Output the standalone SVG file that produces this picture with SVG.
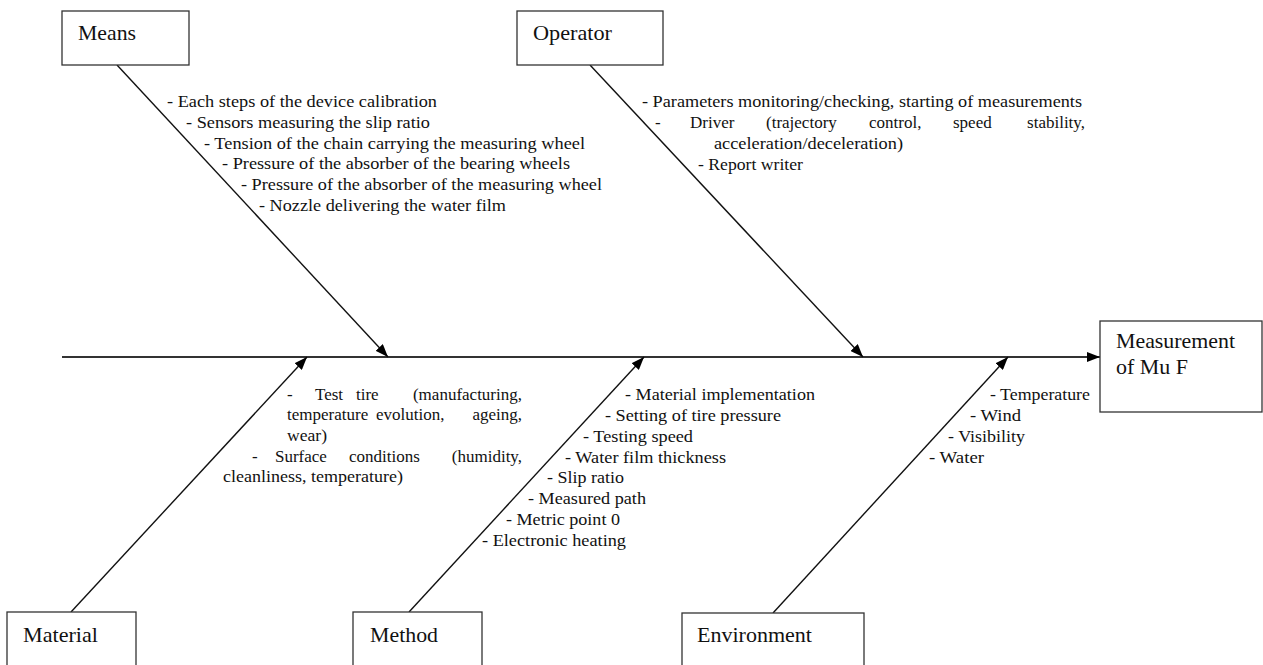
<svg xmlns="http://www.w3.org/2000/svg" width="1263" height="665" viewBox="0 0 1263 665">
<defs>
<style>
.box{fill:#fff;stroke:#333;stroke-width:1.3}
.lbl{font-family:"Liberation Serif","Times New Roman",serif;font-size:22px;fill:#111}
.t{font-family:"Liberation Serif","Times New Roman",serif;font-size:17px;fill:#111}
.ln{stroke:#111;stroke-width:1.4;fill:none}
.sp{stroke:#333;stroke-width:2;fill:none}
.e{text-anchor:end}
</style>
<marker id="ah" markerUnits="userSpaceOnUse" markerWidth="14" markerHeight="10" refX="13" refY="5" orient="auto">
<path d="M0,0 L13,5 L0,10 Z" fill="#000"/>
</marker>
</defs>
<rect width="1263" height="665" fill="#fff"/>

<g id="connectors">
<line class="sp" x1="62" y1="357" x2="1100" y2="357" marker-end="url(#ah)"/>
<line class="ln" x1="117" y1="65" x2="388" y2="357" marker-end="url(#ah)"/>
<line class="ln" x1="590" y1="65" x2="863" y2="357" marker-end="url(#ah)"/>
<line class="ln" x1="71" y1="612" x2="307" y2="357" marker-end="url(#ah)"/>
<line class="ln" x1="409" y1="612" x2="644" y2="357" marker-end="url(#ah)"/>
<line class="ln" x1="773" y1="613" x2="1008" y2="357" marker-end="url(#ah)"/>
</g>

<g id="means">
<rect class="box" x="62" y="11" width="127" height="54"/>
<text class="lbl" x="78" y="40" textLength="58" lengthAdjust="spacingAndGlyphs">Means</text>
</g>
<g id="means-causes" class="t">
<text x="167" y="107" textLength="270" lengthAdjust="spacingAndGlyphs">- Each steps of the device calibration</text>
<text x="186" y="128" textLength="244" lengthAdjust="spacingAndGlyphs">- Sensors measuring the slip ratio</text>
<text x="204" y="148.5" textLength="381" lengthAdjust="spacingAndGlyphs">- Tension of the chain carrying the measuring wheel</text>
<text x="222" y="169" textLength="348" lengthAdjust="spacingAndGlyphs">- Pressure of the absorber of the bearing wheels</text>
<text x="241" y="190" textLength="361" lengthAdjust="spacingAndGlyphs">- Pressure of the absorber of the measuring wheel</text>
<text x="259" y="210.5" textLength="247" lengthAdjust="spacingAndGlyphs">- Nozzle delivering the water film</text>
</g>

<g id="operator">
<rect class="box" x="517" y="11" width="146" height="54"/>
<text class="lbl" x="533" y="40" textLength="79" lengthAdjust="spacingAndGlyphs">Operator</text>
</g>
<g id="operator-causes" class="t">
<text x="642" y="107" textLength="440" lengthAdjust="spacingAndGlyphs">- Parameters monitoring/checking, starting of measurements</text>
<text y="128"><tspan x="655">-</tspan><tspan x="690">Driver</tspan><tspan x="766">(trajectory</tspan><tspan x="869">control,</tspan><tspan x="953">speed</tspan><tspan class="e" x="1085">stability,</tspan></text>
<text x="714" y="149" textLength="189" lengthAdjust="spacingAndGlyphs">acceleration/deceleration)</text>
<text x="698" y="170" textLength="105" lengthAdjust="spacingAndGlyphs">- Report writer</text>
</g>

<g id="material">
<rect class="box" x="7" y="612" width="129" height="60"/>
<text class="lbl" x="23" y="642" textLength="75" lengthAdjust="spacingAndGlyphs">Material</text>
</g>
<g id="material-causes" class="t">
<text y="400"><tspan x="287">-</tspan><tspan x="315">Test</tspan><tspan x="356">tire</tspan><tspan class="e" x="522">(manufacturing,</tspan></text>
<text y="420"><tspan x="287">temperature</tspan><tspan x="376">evolution,</tspan><tspan class="e" x="522">ageing,</tspan></text>
<text x="287" y="441" textLength="40" lengthAdjust="spacingAndGlyphs">wear)</text>
<text y="462"><tspan x="252">-</tspan><tspan x="275">Surface</tspan><tspan x="349">conditions</tspan><tspan class="e" x="522">(humidity,</tspan></text>
<text x="223" y="482" textLength="180" lengthAdjust="spacingAndGlyphs">cleanliness, temperature)</text>
</g>

<g id="method">
<rect class="box" x="353" y="612" width="129" height="60"/>
<text class="lbl" x="370" y="642" textLength="68" lengthAdjust="spacingAndGlyphs">Method</text>
</g>
<g id="method-causes" class="t">
<text x="625" y="400" textLength="190" lengthAdjust="spacingAndGlyphs">- Material implementation</text>
<text x="605" y="421" textLength="176" lengthAdjust="spacingAndGlyphs">- Setting of tire pressure</text>
<text x="583" y="442" textLength="110" lengthAdjust="spacingAndGlyphs">- Testing speed</text>
<text x="565" y="463" textLength="161" lengthAdjust="spacingAndGlyphs">- Water film thickness</text>
<text x="547" y="483" textLength="77" lengthAdjust="spacingAndGlyphs">- Slip ratio</text>
<text x="528" y="504" textLength="118" lengthAdjust="spacingAndGlyphs">- Measured path</text>
<text x="506" y="525" textLength="114" lengthAdjust="spacingAndGlyphs">- Metric point 0</text>
<text x="482" y="546" textLength="144" lengthAdjust="spacingAndGlyphs">- Electronic heating</text>
</g>

<g id="environment">
<rect class="box" x="682" y="613" width="182" height="60"/>
<text class="lbl" x="697" y="642" textLength="115" lengthAdjust="spacingAndGlyphs">Environment</text>
</g>
<g id="environment-causes" class="t">
<text x="990" y="400" textLength="100" lengthAdjust="spacingAndGlyphs">- Temperature</text>
<text x="970" y="421" textLength="51" lengthAdjust="spacingAndGlyphs">- Wind</text>
<text x="948" y="442" textLength="77" lengthAdjust="spacingAndGlyphs">- Visibility</text>
<text x="929" y="463" textLength="55" lengthAdjust="spacingAndGlyphs">- Water</text>
</g>

<g id="effect">
<rect class="box" x="1100" y="321" width="162" height="91"/>
<text class="lbl" x="1116" y="348" textLength="119" lengthAdjust="spacingAndGlyphs">Measurement</text>
<text class="lbl" x="1116" y="374" textLength="72" lengthAdjust="spacingAndGlyphs">of Mu F</text>
</g>
</svg>
